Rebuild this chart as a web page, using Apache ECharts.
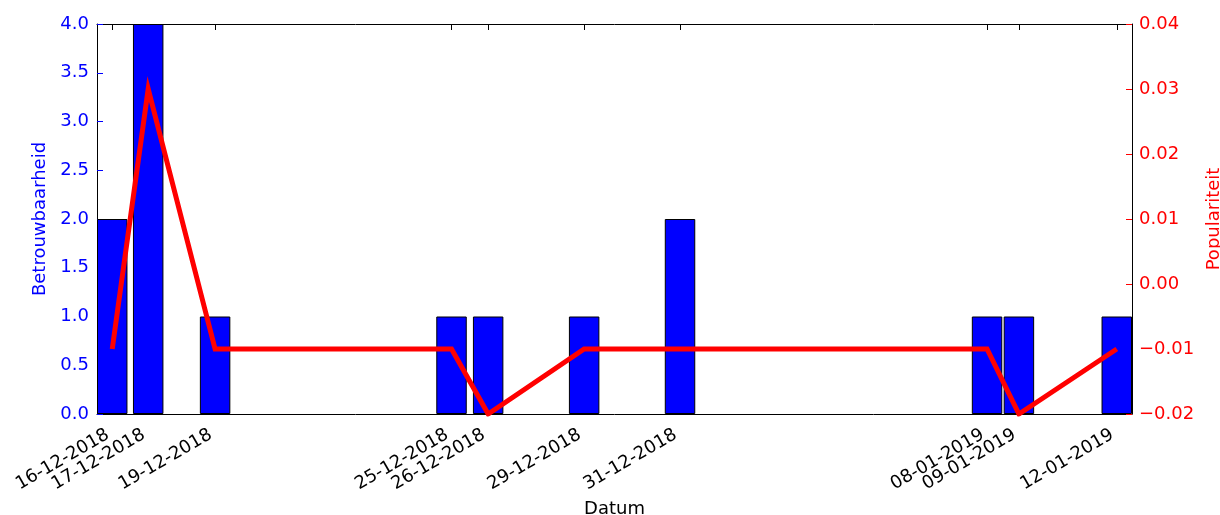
<!DOCTYPE html>
<html>
<head>
<meta charset="utf-8">
<script src="https://cdn.jsdelivr.net/npm/echarts@6/dist/echarts.min.js"></script>
<style>
html,body{margin:0;padding:0;background:#fff;}
#chart{width:1220px;height:515px;}
</style>
</head>
<body>
<div id="chart"></div>
<script>
// ---- data ----
const dates = [
  '2018-12-16T17:00:00', '2018-12-17T15:40:00', '2018-12-19T09:50:00',
  '2018-12-25T14:50:00', '2018-12-26T13:55:00', '2018-12-29T02:25:00',
  '2018-12-31T14:50:00', '2019-01-08T16:20:00', '2019-01-09T12:25:00',
  '2019-01-12T02:05:00'
];
const betrouwbaarheid = [2, 4, 1, 1, 1, 1, 2, 1, 1, 1];
const populariteit = [-0.01, 0.03, -0.01, -0.01, -0.02, -0.01, -0.01, -0.01, -0.02, -0.01];
const leftTicks = [0, 0.5, 1, 1.5, 2, 2.5, 3, 3.5, 4];
const rightTicks = [-0.02, -0.01, 0, 0.01, 0.02, 0.03, 0.04];

// ---- chart ----
const DAY = 86400000;
const ts = dates.map(d => new Date(d).getTime());
const xMin = ts[0] - 0.4 * DAY;
const xMax = ts[ts.length - 1] + 0.4 * DAY;
const gridLeft = 97, gridRight = 88;
const gridW = 1220 - gridLeft - gridRight;
const barPx = 0.8 * DAY * gridW / (xMax - xMin);
const pad = n => (n < 10 ? '0' : '') + n;
const fmtDate = v => { const d = new Date(v); return pad(d.getDate()) + '-' + pad(d.getMonth() + 1) + '-' + d.getFullYear(); };
const minus = s => s.replace('-', '\u2212');
const FONT = 'DejaVu Sans';
const FS = 18;

const chart = echarts.init(document.getElementById('chart'), null, {renderer: 'canvas'});
chart.setOption({
  animation: false,
  backgroundColor: '#fff',
  textStyle: {fontFamily: FONT},
  grid: {left: gridLeft, right: gridRight, top: 24, bottom: 101, containLabel: false, outerBoundsMode: 'none'},
  xAxis: [{
    type: 'value', position: 'bottom', min: xMin, max: xMax, scale: true,
    name: 'Datum', nameLocation: 'middle', nameGap: 86,
    nameTextStyle: {color: '#000', fontSize: FS, fontFamily: FONT},
    axisLine: {show: true, onZero: false, lineStyle: {color: '#000', width: 1}},
    axisTick: {show: true, inside: true, length: 6, lineStyle: {color: '#000'}, customValues: ts},
    axisLabel: {show: true, rotate: 30, color: '#000', fontSize: FS, fontFamily: FONT, margin: 17,
      padding: [0, 5, 0, 0],
      customValues: ts, formatter: v => fmtDate(v), hideOverlap: false},
    splitLine: {show: false}
  }, {
    type: 'value', position: 'top', min: xMin, max: xMax, scale: true,
    axisLine: {show: true, onZero: false, lineStyle: {color: '#000', width: 1}},
    axisTick: {show: true, inside: true, length: 6, lineStyle: {color: '#000'}, customValues: ts},
    axisLabel: {show: false},
    splitLine: {show: false}
  }],
  yAxis: [{
    type: 'value', position: 'left', min: 0, max: 4, interval: 0.5,
    name: 'Betrouwbaarheid', nameLocation: 'middle', nameGap: 41, nameRotate: 90,
    nameTextStyle: {color: '#0000ff', fontSize: FS, fontFamily: FONT},
    axisLine: {show: true, onZero: false, lineStyle: {color: '#000', width: 1}},
    axisTick: {show: true, inside: true, length: 6, lineStyle: {color: '#0000ff'}},
    axisLabel: {color: '#0000ff', fontSize: FS, fontFamily: FONT, margin: 8,
      formatter: v => v.toFixed(1)},
    splitLine: {show: false}
  }, {
    type: 'value', position: 'right', min: -0.02, max: 0.04, interval: 0.01,
    name: 'Populariteit', nameLocation: 'middle', nameGap: 71, nameRotate: 90,
    nameTextStyle: {color: '#ff0000', fontSize: FS, fontFamily: FONT},
    axisLine: {show: true, onZero: false, lineStyle: {color: '#000', width: 1}},
    axisTick: {show: true, inside: true, length: 6, lineStyle: {color: '#ff0000'}},
    axisLabel: {color: '#ff0000', fontSize: FS, fontFamily: FONT, margin: 7,
      formatter: v => minus((Math.round(v * 100) / 100).toFixed(2))},
    splitLine: {show: false}
  }],
  series: [{
    type: 'bar', xAxisIndex: 0, yAxisIndex: 0,
    data: ts.map((t, i) => [t, betrouwbaarheid[i]]),
    barWidth: barPx,
    itemStyle: {color: '#0000ff', borderColor: '#000', borderWidth: 1},
    z: 2
  }, {
    type: 'line', xAxisIndex: 0, yAxisIndex: 1,
    data: ts.map((t, i) => [t, populariteit[i]]),
    showSymbol: false, symbol: 'none',
    lineStyle: {color: '#ff0000', width: 5, cap: 'butt', join: 'miter'},
    itemStyle: {color: '#ff0000'},
    z: 3
  }]
});
</script>
</body>
</html>
